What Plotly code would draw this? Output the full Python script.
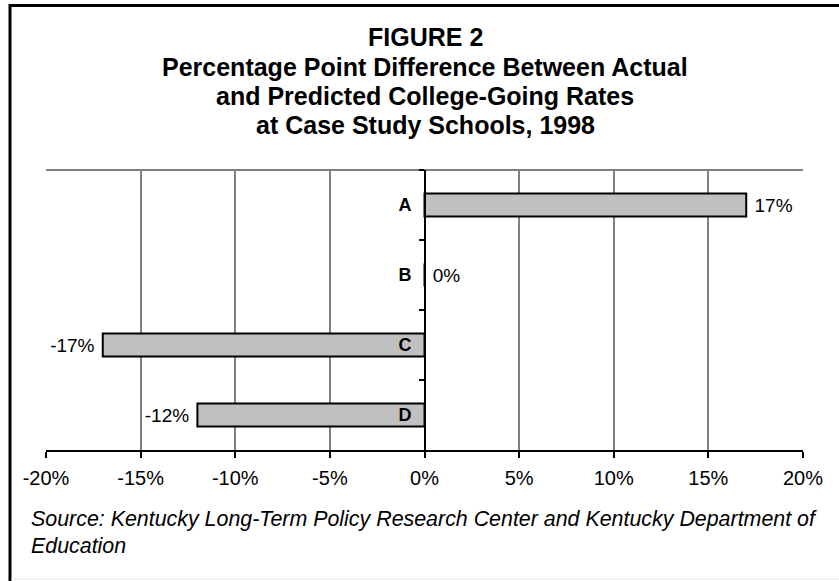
import plotly.graph_objects as go

schools = ["A", "B", "C", "D"]
diff_pct = [17, 0, -17, -12]
x_ticks = [-20, -15, -10, -5, 0, 5, 10, 15, 20]
x_tick_labels = ["-20%", "-15%", "-10%", "-5%", "0%", "5%", "10%", "15%", "20%"]
title_lines = [
    "FIGURE 2",
    "Percentage Point Difference Between Actual",
    "and Predicted College-Going Rates",
    "at Case Study Schools, 1998",
]
source_lines = [
    "Source: Kentucky Long-Term Policy Research Center and Kentucky Department of",
    "Education",
]

W, H = 839, 581
L, R, T, B = 46, 36, 170, 131
pw, ph = W - L - R, H - T - B

def px_to_paper_x(px):
    return (px - L) / pw

def px_to_paper_y(py):
    return 1 - (py - T) / ph

FONT = "Liberation Sans, Arial, sans-serif"

labels = [("\u00a0" + f"{v}%") if v >= 0 else (f"{v}%" + "\u00a0") for v in diff_pct]

fig = go.Figure()
fig.add_trace(go.Bar(
    y=schools, x=diff_pct, orientation="h",
    marker=dict(color="#c0c0c0", line=dict(color="black", width=2)),
    width=0.33,
    text=labels,
    textposition="outside",
    textfont=dict(family=FONT, size=19, color="black"),
    cliponaxis=False,
    hoverinfo="skip",
))

fig.update_layout(
    width=W, height=H,
    margin=dict(l=L, r=R, t=T, b=B),
    paper_bgcolor="white", plot_bgcolor="white",
    showlegend=False,
    font=dict(family=FONT, size=16, color="black"),
    xaxis=dict(
        range=[-20, 20], tickvals=x_ticks, ticktext=x_tick_labels,
        showgrid=True, gridcolor="#808080", gridwidth=2,
        zeroline=False,
        showline=True, linecolor="black", linewidth=2,
        ticks="outside", ticklen=6, tickwidth=2, tickcolor="black",
        ticklabelstandoff=3,
        tickfont=dict(family=FONT, size=20, color="black"),
        fixedrange=True,
    ),
    yaxis=dict(
        categoryorder="array", categoryarray=schools, autorange="reversed",
        anchor="free", position=px_to_paper_x(425),
        showline=True, linecolor="black", linewidth=2,
        ticks="outside", tickson="boundaries", ticklen=5, tickwidth=2, tickcolor="black",
        showgrid=False, zeroline=False,
        tickfont=dict(family=FONT, size=18, color="black", weight="bold"),
        ticklabelstandoff=9,
        fixedrange=True,
    ),
    bargap=0.67,
)

# plot-area top border (gray)
fig.add_shape(type="line", xref="paper", yref="paper", x0=0, x1=1, y0=1, y1=1,
              line=dict(color="#808080", width=2), layer="below")

# outer frame
fig.add_shape(type="line", xref="paper", yref="paper",
              x0=px_to_paper_x(9), x1=px_to_paper_x(845),
              y0=px_to_paper_y(5.5), y1=px_to_paper_y(5.5),
              line=dict(color="black", width=3))
fig.add_shape(type="line", xref="paper", yref="paper",
              x0=px_to_paper_x(10), x1=px_to_paper_x(10),
              y0=px_to_paper_y(4), y1=px_to_paper_y(590),
              line=dict(color="black", width=3))
fig.add_shape(type="line", xref="paper", yref="paper",
              x0=px_to_paper_x(11), x1=px_to_paper_x(845),
              y0=px_to_paper_y(579), y1=px_to_paper_y(579),
              line=dict(color="#e8e8e8", width=1))

title_y = [37, 67, 96, 125]
for txt, yy in zip(title_lines, title_y):
    fig.add_annotation(text=f"<b>{txt}</b>", xref="paper", yref="paper",
                       x=px_to_paper_x(425), y=px_to_paper_y(yy),
                       xanchor="center", yanchor="middle", showarrow=False,
                       font=dict(family=FONT, size=25, color="black"))

src_y = [519, 546]
for txt, yy in zip(source_lines, src_y):
    fig.add_annotation(text=f"<i>{txt}</i>", xref="paper", yref="paper",
                       x=px_to_paper_x(29), y=px_to_paper_y(yy),
                       xanchor="left", yanchor="middle", showarrow=False,
                       font=dict(family=FONT, size=21.4, color="black"))

fig.write_html("out.html", config={"displayModeBar": False},
               post_script="document.body.style.margin='0px';")
